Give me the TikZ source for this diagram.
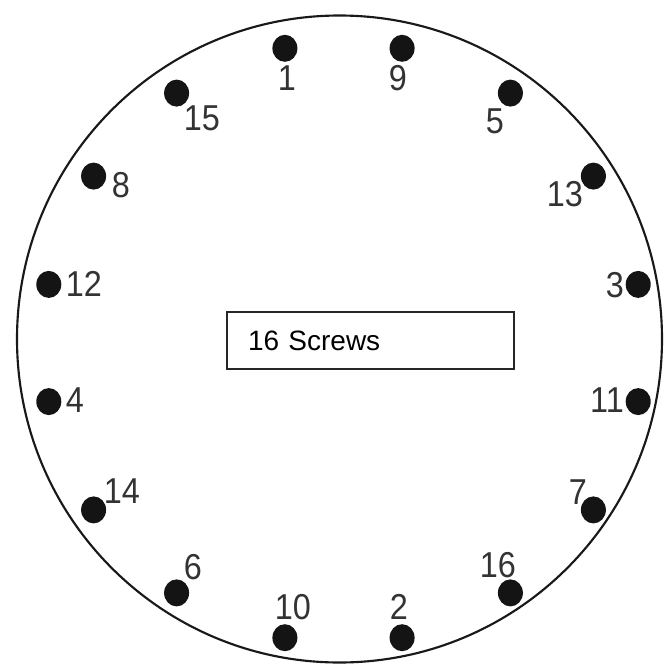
\documentclass[tikz,border=0pt]{standalone}
\usepackage{fontspec}
\setmainfont{Liberation Sans}
\tikzset{
  screwdot/.style={fill=black!92, draw=none, ellipse-like},
  ellipse-like/.style={},
  numlab/.style={inner sep=0pt, text=black!80, font=\fontsize{27}{27}\selectfont, xscale=0.9},
  rim/.style={draw=black!90, line width=1.6pt},
  boxstyle/.style={draw=black!85, line width=0.9pt, minimum width=215.25pt, minimum height=42.75pt,
    inner xsep=15.75pt, text width=183.75pt, align=left, font=\fontsize{21}{21}\selectfont}
}
\begin{document}
\begin{tikzpicture}[x=0.75pt,y=-0.75pt]
\useasboundingbox (0,0) rectangle (664,665);
% rim
\draw[rim] (339.5,339) circle[x radius=322.5, y radius=323.5];
% dots
\foreach \n/\px/\py in {1/284.9/48.3, 9/402.1/48.3, 5/510.4/93.1, 13/593.4/176.1,
  3/638.2/284.4, 11/638.2/401.6, 7/593.4/509.9, 16/510.4/592.9,
  2/402.1/637.7, 10/284.9/637.7, 6/176.6/592.9, 14/93.6/509.9,
  4/48.8/401.6, 12/48.8/284.4, 8/93.6/176.1, 15/176.6/93.1}{
  \fill[black!92] (\px,\py) ellipse[x radius=12.5, y radius=13.5];
  \coordinate (d\n) at (\px,\py);
}
% labels
\node[numlab] (l1)  at (287,78.5) {1};
\node[numlab] (l9)  at (398,78.5) {9};
\node[numlab] (l15) at (202,118) {15};
\node[numlab] (l5)  at (495,121) {5};
\node[numlab] (l13) at (565,194) {13};
\node[numlab] (l8)  at (121,185) {8};
\node[numlab] (l12) at (84,284) {12};
\node[numlab] (l4)  at (75,400) {4};
\node[numlab] (l14) at (122,491) {14};
\node[numlab] (l6)  at (193,567) {6};
\node[numlab] (l10) at (293,607) {10};
\node[numlab] (l2)  at (399,607) {2};
\node[numlab] (l16) at (498,565) {16};
\node[numlab] (l7)  at (578,492) {7};
\node[numlab] (l11) at (607,400) {11};
\node[numlab] (l3)  at (615,285) {3};
% center box
\node[boxstyle] (box) at (370.5,340.5) {16 Screws};
\end{tikzpicture}
\end{document}
